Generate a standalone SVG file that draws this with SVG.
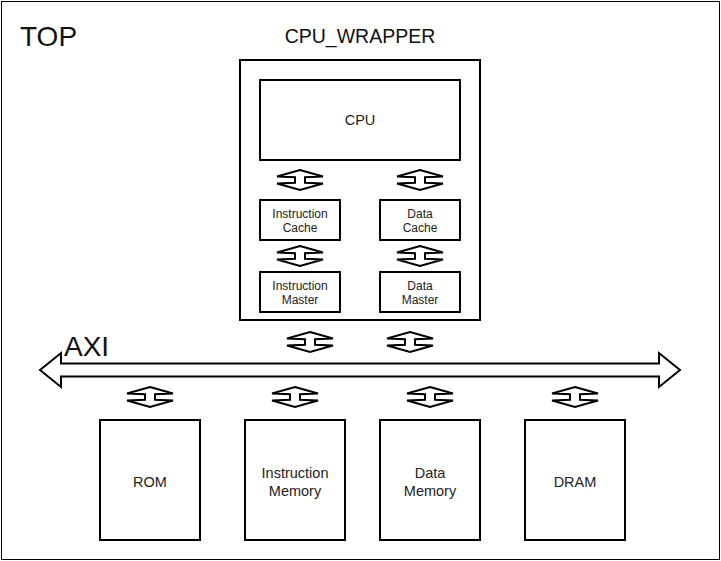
<svg xmlns="http://www.w3.org/2000/svg" xmlns:xlink="http://www.w3.org/1999/xlink" width="721" height="561" viewBox="0 0 721 561">
<style>
.box{fill:#fff;stroke:#000;stroke-width:2}
.frame{fill:#fff;stroke:#000;stroke-width:1}
.t{font-family:"Liberation Sans",Arial,Helvetica,sans-serif;fill:#222;text-anchor:middle}
.s12{font-size:12px}
.s14{font-size:14.5px}
.big{font-size:28px;text-anchor:start;fill:#111}
.arr{fill:#fff;stroke:#000;stroke-width:2;stroke-linejoin:miter}
</style>
<defs>
<polygon id="dbl" class="arr" points="0,-10 23,-3.5 5,-2.8 5,2.8 23,3.5 0,10 -23,3.5 -5,2.8 -5,-2.8 -23,-3.5"/>
</defs>
<rect width="721" height="561" fill="#fff"/>
<g id="top">
<rect class="frame" x="1.5" y="1.5" width="718" height="558"/>
<text class="t big" x="20" y="46">TOP</text>
</g>
<g id="cpu_wrapper">
<rect class="box" x="240" y="60" width="240" height="260"/>
<text class="t" x="360" y="43" style="font-size:19.5px;fill:#111">CPU_WRAPPER</text>
</g>
<g id="cpu">
<rect class="box" x="260" y="80" width="200" height="80"/>
<text class="t s14" x="360" y="125">CPU</text>
</g>
<g id="icache">
<rect class="box" x="260" y="200" width="80" height="40"/>
<text class="t s12" x="300" y="218">Instruction</text>
<text class="t s12" x="300" y="232">Cache</text>
</g>
<g id="dcache">
<rect class="box" x="380" y="200" width="80" height="40"/>
<text class="t s12" x="420" y="218">Data</text>
<text class="t s12" x="420" y="232">Cache</text>
</g>
<g id="imaster">
<rect class="box" x="260" y="272" width="80" height="40"/>
<text class="t s12" x="300" y="290">Instruction</text>
<text class="t s12" x="300" y="304">Master</text>
</g>
<g id="dmaster">
<rect class="box" x="380" y="272" width="80" height="40"/>
<text class="t s12" x="420" y="290">Data</text>
<text class="t s12" x="420" y="304">Master</text>
</g>
<g id="rom">
<rect class="box" x="100" y="420" width="100" height="120"/>
<text class="t s14" x="150" y="486.5">ROM</text>
</g>
<g id="imem">
<rect class="box" x="245" y="420" width="100" height="120"/>
<text class="t s14" x="295" y="478">Instruction</text>
<text class="t s14" x="295" y="496">Memory</text>
</g>
<g id="dmem">
<rect class="box" x="380" y="420" width="100" height="120"/>
<text class="t s14" x="430" y="478">Data</text>
<text class="t s14" x="430" y="496">Memory</text>
</g>
<g id="dram">
<rect class="box" x="525" y="420" width="100" height="120"/>
<text class="t s14" x="575" y="486.5">DRAM</text>
</g>
<g id="connectors">
<polygon class="arr" points="40,370 61,353 61,363.5 659,363.5 659,353 680,370 659,387 659,376.5 61,376.5 61,387"/>
<text class="t big" x="64" y="356">AXI</text>
<use xlink:href="#dbl" href="#dbl" x="300" y="180"/>
<use xlink:href="#dbl" href="#dbl" x="420" y="180"/>
<use xlink:href="#dbl" href="#dbl" x="300" y="256"/>
<use xlink:href="#dbl" href="#dbl" x="420" y="256"/>
<use xlink:href="#dbl" href="#dbl" x="310" y="342"/>
<use xlink:href="#dbl" href="#dbl" x="410" y="342"/>
<use xlink:href="#dbl" href="#dbl" x="150" y="397"/>
<use xlink:href="#dbl" href="#dbl" x="295" y="397"/>
<use xlink:href="#dbl" href="#dbl" x="430" y="397"/>
<use xlink:href="#dbl" href="#dbl" x="575" y="397"/>
</g>
</svg>
